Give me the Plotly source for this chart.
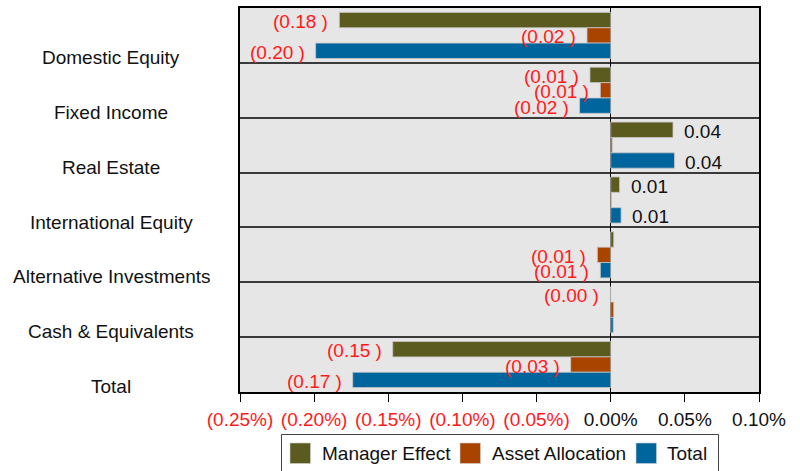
import plotly.graph_objects as go

# Attribution by asset class (percentage points)
categories = [
    "Domestic Equity",
    "Fixed Income",
    "Real Estate",
    "International Equity",
    "Alternative Investments",
    "Cash & Equivalents",
    "Total",
]
manager_effect = [-0.183, -0.014, 0.042, 0.006, 0.002, -0.0003, -0.147]
asset_allocation = [-0.016, -0.007, 0.001, 0.0005, -0.009, 0.002, -0.027]
total = [-0.199, -0.021, 0.043, 0.007, -0.007, 0.0017, -0.174]

tick_vals = [-0.25, -0.20, -0.15, -0.10, -0.05, 0.0, 0.05, 0.10]
tick_labels = ["(0.25%)", "(0.20%)", "(0.15%)", "(0.10%)", "(0.05%)", "0.00%", "0.05%", "0.10%"]

series = [
    ("Manager Effect", manager_effect, "#5b5b20"),
    ("Asset Allocation", asset_allocation, "#a84400"),
    ("Total", total, "#00659c"),
]

FONT = "Arial, Liberation Sans, sans-serif"
RED = "#ff1a1a"
INK = "#111111"
FS = 19

# Figure geometry (pixels)
W, H = 800, 471
L, R, T, B = 240, 41, 8, 79
PW, PH = W - L - R, H - T - B
BARGAP = 0.16
band = PH / len(categories)
bar_h = band * (1 - BARGAP) / len(series)


def px_x(p):
    return (p - L) / PW


def px_y(p):
    return (H - B - p) / PH


def label(v):
    if v < 0:
        return f"({abs(v):.2f} )"
    if round(v, 2) > 0:
        return f"{v:.2f}"
    return ""


fig = go.Figure()
annotations = []
for k, (name, vals, color) in enumerate(series):
    fig.add_trace(go.Bar(
        name=name,
        y=categories,
        x=vals,
        orientation="h",
        marker=dict(color=color, line=dict(color="#c8c8c8", width=0.8)),
        hoverinfo="skip",
        showlegend=False,
    ))
    # value labels just beyond the end of each bar
    shift = (1 - k) * bar_h
    for c, v in zip(categories, vals):
        t = label(v)
        if not t:
            continue
        neg = v < 0
        annotations.append(dict(
            text=t, x=v, xref="x", y=c, yref="y",
            xanchor="right" if neg else "left", yanchor="middle",
            xshift=-9 if neg else 9, yshift=shift - 1.5,
            showarrow=False,
            font=dict(family=FONT, size=FS, color=RED if neg else INK),
        ))

tick_text = [
    f"<span style='color:{RED}'>{t}</span>" if v < 0 else t
    for v, t in zip(tick_vals, tick_labels)
]

# Category names sit in the lower part of each band
for c in categories:
    annotations.append(dict(
        text=c, x=px_x(111), xref="paper", y=c, yref="y",
        xanchor="center", yanchor="middle", yshift=-22,
        showarrow=False, font=dict(family=FONT, size=FS, color=INK),
    ))

# Legend: framed box with square swatches
shapes = [dict(
    type="rect", xref="paper", yref="paper",
    x0=px_x(281.5), x1=px_x(718.5), y0=px_y(490), y1=px_y(434.5),
    line=dict(color="#444444", width=1), fillcolor="white", layer="above",
)]
legend_items = [(290, 320), (460, 490), (636, 665)]
for (sx, tx), (name, _, color) in zip(legend_items, series):
    shapes.append(dict(
        type="rect", xref="paper", yref="paper",
        x0=px_x(sx), x1=px_x(sx + 20.5), y0=px_y(463.5), y1=px_y(443),
        line=dict(color="#d0d0d0", width=0.6), fillcolor=color, layer="above",
    ))
    annotations.append(dict(
        text=name, x=px_x(tx), xref="paper", y=px_y(453), yref="paper",
        xanchor="left", yanchor="middle", showarrow=False,
        font=dict(family=FONT, size=FS, color=INK),
    ))

fig.update_layout(
    width=W, height=H,
    margin=dict(l=L, r=R, t=T, b=B, autoexpand=False),
    paper_bgcolor="white",
    plot_bgcolor="#e6e6e6",
    barmode="group",
    bargap=BARGAP,
    bargroupgap=0,
    font=dict(family=FONT, size=FS, color=INK),
    annotations=annotations,
    shapes=shapes,
    showlegend=False,
    xaxis=dict(
        range=[-0.25, 0.10],
        tickvals=tick_vals,
        ticktext=tick_text,
        ticks="outside", ticklen=8, tickcolor="#000", tickwidth=1,
        tickfont=dict(family=FONT, size=FS, color=INK),
        ticklabelstandoff=1,
        showgrid=False,
        zeroline=True, zerolinecolor="#000", zerolinewidth=1,
        showline=True, linecolor="#000", linewidth=1.5, mirror=True,
        fixedrange=True,
    ),
    yaxis=dict(
        type="category",
        categoryorder="array", categoryarray=categories,
        range=[len(categories) - 0.5, -0.5],
        autorange=False,
        tickson="boundaries",
        showticklabels=False,
        ticks="",
        showgrid=True, gridcolor="#3a3a3a", gridwidth=1.5,
        showline=True, linecolor="#000", linewidth=1.5, mirror=True,
        fixedrange=True,
    ),
)

fig.write_html("out.html", config={"displayModeBar": False})
